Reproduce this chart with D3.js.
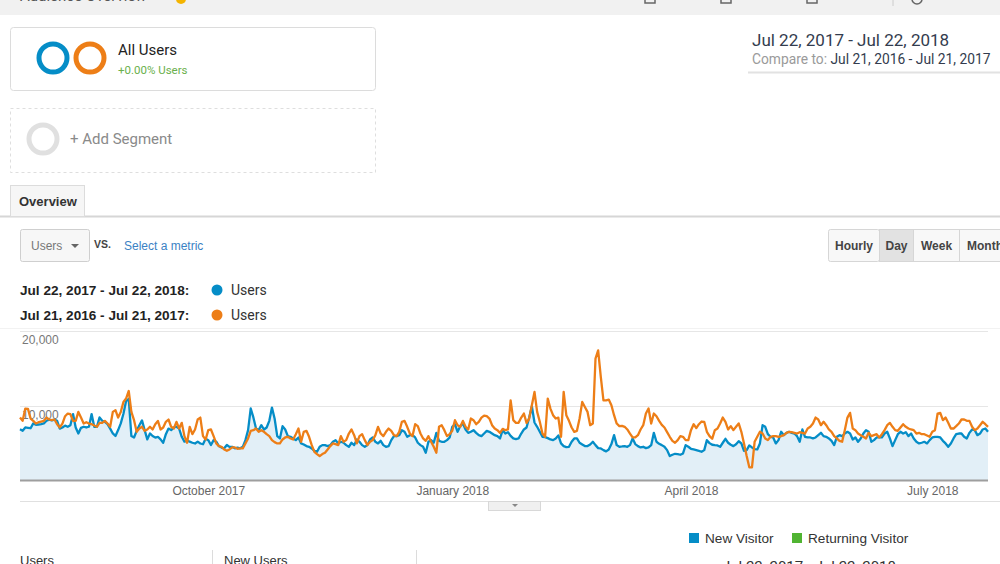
<!DOCTYPE html>
<html>
<head>
<meta charset="utf-8">
<script src="https://cdn.jsdelivr.net/npm/d3@7"></script>
<style>
  html, body { margin: 0; padding: 0; background: #fff; }
  svg { display: block; }
</style>
</head>
<body>
<svg id="chart" width="1000" height="564"></svg>
<script>
// ---------------- DATA ----------------
const currentRange = "Jul 22, 2017 - Jul 22, 2018";
const compareRange = "Jul 21, 2016 - Jul 21, 2017";
const metricName = "Users";
const yTicks = [10000, 20000];
const xTickDates = ["2017-10-01", "2018-01-01", "2018-04-01", "2018-07-01"];
const granularities = ["Hourly", "Day", "Week", "Month"];
const visitorTypes = ["New Visitor", "Returning Visitor"];
const tableHeaders = ["Users", "New Users"];

// Daily users, Jul 22, 2017 - Jul 22, 2018 (blue)
const currentUsers = [
  6800,6600,7050,7000,6950,7600,7400,7450,7500,7600,
  7950,8100,8000,8100,7950,6900,7050,7300,7150,7350,
  8850,7050,6250,7000,7150,7050,7150,8850,7150,7150,
  8400,7950,7800,7500,6900,6250,5900,6700,7600,8900,
  10600,10900,5900,5700,6600,7350,8000,6700,5450,6250,
  5900,5700,5800,5450,5000,6150,6900,6700,7050,7150,
  6900,5800,5150,5350,5150,5000,4900,5150,4900,4800,
  5550,5350,4700,5350,5150,4550,4350,4250,4700,4450,
  4450,4250,4350,4250,4450,5350,6700,9600,8400,6900,
  6700,7360,6780,7050,7940,9720,8250,5890,5580,7230,
  6780,5890,5800,5580,5350,5710,4910,4770,4550,4460,
  4240,3920,3790,4460,4680,4680,4550,4680,5130,5350,
  4910,5130,5000,4680,4460,5000,4680,5440,5130,4680,
  4460,4680,5440,5710,5130,4910,5260,4680,4460,4550,
  5350,5890,5890,6020,6690,6470,5800,6020,6020,5710,
  5000,4680,4460,3660,5130,5350,5000,6330,5260,5130,
  5130,5350,5710,7140,7490,6470,7230,7580,6780,6330,
  6470,6690,6330,6020,5890,6240,6600,6470,6240,6020,
  5890,5580,6690,6240,6420,5930,5580,5490,5580,6240,
  6780,7050,8380,9900,7720,7140,6470,5800,5750,5620,
  5440,5350,5580,5980,4910,4550,4420,4460,5130,5580,
  5580,5000,4770,4550,4550,4770,5130,4680,4280,4240,
  4010,3840,4100,4820,6020,4680,4460,4500,4550,4460,
  4680,5580,4820,4550,4370,4460,4280,4370,4680,6330,
  5130,4860,4680,4460,4010,3210,3390,3520,3480,3390,
  3570,4680,4460,4190,4100,4010,3920,3790,4010,5350,
  4950,4730,4680,4640,4460,5000,5530,5000,4730,4550,
  4800,5200,4910,3920,4010,4640,4370,4150,4100,4910,
  7360,7140,6150,5800,5710,4910,5350,6470,6020,6330,
  6470,6330,6240,5890,5130,6780,5800,5710,5710,5580,
  5710,6020,6330,5890,5800,5580,5260,4680,5800,6020,
  5890,6240,6470,6240,5440,5710,5130,5580,6240,6690,
  6470,5130,5350,5710,5710,5710,6240,6470,5580,4550,
  5350,6150,6470,6240,6420,5890,6240,5580,5130,4910,
  5000,5130,4910,5350,5710,5800,5800,5710,5260,4910,
  4460,4910,5580,6150,6240,6240,5800,5580,6330,6780,
  6690,6020,6240,6780,6910,6470
];

// Daily users, Jul 21, 2016 - Jul 21, 2017 (orange)
const previousUsers = [
  8380,7940,9590,9540,8250,7940,7580,7760,7850,7940,
  8380,8120,8030,8120,7490,7050,7580,8560,8920,8830,
  7940,7940,9140,8380,7580,7760,7580,7490,7310,7140,
  7670,7670,7940,7580,7140,9140,9370,8380,9140,10480,
  10930,11950,9140,8030,6470,6910,7140,6600,6780,7140,
  6780,7490,7940,6780,7050,7810,8120,7140,6910,7810,
  6910,7670,5890,5000,7140,6150,6780,8120,8380,5890,
  5440,6690,6780,5890,4910,4550,4460,4100,3920,4100,
  4370,4370,4190,4240,4240,4910,5580,6600,6690,6910,
  6470,6690,6470,6150,5890,5350,5080,4910,4910,5440,
  5710,5800,5580,5440,6150,6910,5130,6470,6600,5800,
  4680,3790,3480,3210,3480,3660,4100,4550,4910,4820,
  4680,5890,5130,5350,6240,6780,6020,4910,5890,6150,
  5350,4680,5130,5350,6020,7140,6240,5890,6470,6910,
  6600,6020,5890,6470,7810,7940,7140,6240,5890,7490,
  7230,6240,5580,5260,5890,5130,4460,3660,7140,7360,
  6690,5890,6150,6600,8030,7360,7140,7940,7140,6780,
  8250,8030,7490,7810,8380,8650,8560,8250,7360,6910,
  6690,6330,6870,6690,6780,10700,8030,7670,7670,8380,
  8920,7670,8250,10040,11820,9140,7810,6240,5800,10930,
  9590,8700,8250,8380,5800,11820,8700,7940,7050,6470,
  6600,8250,10480,9810,9140,7360,7580,16280,17390,13830,
  10700,10700,10790,10040,8700,7580,7230,7270,7140,6780,
  6240,5710,5710,6020,6780,7360,8920,9590,7580,8920,
  8560,7940,7400,7050,6420,5800,5260,5000,5350,5890,
  5800,5350,5350,6690,7490,6960,7490,7850,7810,6470,
  5890,5530,6690,6910,7580,8380,7810,6780,7230,6690,
  7140,7600,6470,4910,3210,1700,1700,5130,5800,6470,
  6240,5580,5350,5800,5890,5890,5800,5890,6020,6330,
  6470,6420,6330,6240,6420,6330,6240,6910,7140,7580,
  8380,8120,7360,7810,7360,6780,6470,5890,5580,5260,
  5130,6690,8380,9010,6910,6690,6240,6020,5800,5580,
  6330,5890,6020,6150,5710,6150,6690,7360,7670,7140,
  6690,6600,7050,7490,7140,6910,6780,6690,6240,6330,
  6150,6150,5980,5800,6470,6690,8920,9010,8030,8380,
  7670,6910,6910,7230,7580,8120,8120,7940,7940,7140,
  6690,6910,7360,7810,7490,7140
];

// ---------------- STYLE ----------------
const BLUE = "#058dc7";
const ORANGE = "#ed7e17";
const GREEN = "#50b432";
const UI = "Roboto, 'Liberation Sans', Arial, sans-serif";
const CH = "'Liberation Sans', Arial, sans-serif";

const svg = d3.select("#chart");

// top bar
svg.append("rect").attr("x", 0).attr("y", 0).attr("width", 1000).attr("height", 15).attr("fill", "#f1f1f1");
svg.append("text").attr("x", 20).attr("y", 1).attr("font-family", UI).attr("font-size", 15)
  .attr("fill", "#555").text("Audience Overview");
svg.append("circle").attr("cx", 181).attr("cy", -1).attr("r", 5).attr("fill", "#f4b400");
[650, 726, 812].forEach(cx => {
  svg.append("rect").attr("x", cx - 5).attr("y", -4).attr("width", 10).attr("height", 7)
    .attr("fill", "none").attr("stroke", "#666").attr("stroke-width", 1.5);
});
svg.append("line").attr("x1", 893).attr("x2", 893).attr("y1", 0).attr("y2", 6).attr("stroke", "#ccc");
svg.append("circle").attr("cx", 917).attr("cy", -1).attr("r", 5).attr("fill", "none").attr("stroke", "#666").attr("stroke-width", 1.5);

// segment card
svg.append("rect").attr("x", 10.5).attr("y", 27.5).attr("width", 365).attr("height", 63).attr("rx", 3)
  .attr("fill", "#fff").attr("stroke", "#dcdcdc");
svg.append("circle").attr("cx", 53).attr("cy", 58).attr("r", 14).attr("fill", "none").attr("stroke", BLUE).attr("stroke-width", 5);
svg.append("circle").attr("cx", 90).attr("cy", 58).attr("r", 14).attr("fill", "none").attr("stroke", ORANGE).attr("stroke-width", 5);
svg.append("text").attr("x", 118).attr("y", 55).attr("font-family", UI).attr("font-size", 15).attr("fill", "#222").text("All Users");
svg.append("text").attr("x", 118).attr("y", 74).attr("font-family", UI).attr("font-size", 11.5).attr("fill", "#6ab04c").text("+0.00% Users");

// add segment
svg.append("rect").attr("x", 10.5).attr("y", 108.5).attr("width", 365).attr("height", 64)
  .attr("fill", "#fff").attr("stroke", "#dedede").attr("stroke-dasharray", "3,3");
svg.append("circle").attr("cx", 43).attr("cy", 139).attr("r", 14).attr("fill", "none").attr("stroke", "#e0e0e0").attr("stroke-width", 5);
svg.append("text").attr("x", 70).attr("y", 144).attr("font-family", UI).attr("font-size", 15).attr("fill", "#8a8a8a").text("+ Add Segment");

// date range
svg.append("text").attr("x", 752).attr("y", 46).attr("font-family", UI).attr("font-size", 17).attr("fill", "#333c4e").text(currentRange);
const cmp = svg.append("text").attr("x", 752).attr("y", 64).attr("font-family", UI).attr("font-size", 13.8);
cmp.append("tspan").attr("fill", "#9a9a9a").text("Compare to: ");
cmp.append("tspan").attr("fill", "#333c4e").text(compareRange);
svg.append("line").attr("x1", 748).attr("x2", 1000).attr("y1", 72.5).attr("y2", 72.5).attr("stroke", "#e2e2e2").attr("stroke-width", 2);

// overview tab
svg.append("line").attr("x1", 0).attr("x2", 1000).attr("y1", 216.5).attr("y2", 216.5).attr("stroke", "#d6d6d6").attr("stroke-width", 2);
svg.append("rect").attr("x", 10.5).attr("y", 185.5).attr("width", 74).attr("height", 31).attr("fill", "#f6f6f6").attr("stroke", "#dcdcdc");
svg.append("text").attr("x", 19).attr("y", 206).attr("font-family", CH).attr("font-size", 13).attr("font-weight", "bold").attr("fill", "#333").text("Overview");

// metric selector
svg.append("rect").attr("x", 20.5).attr("y", 229.5).attr("width", 69).attr("height", 32).attr("rx", 2)
  .attr("fill", "#f7f7f7").attr("stroke", "#cfcfcf");
svg.append("text").attr("x", 31).attr("y", 250).attr("font-family", CH).attr("font-size", 12).attr("fill", "#777").text(metricName);
svg.append("path").attr("d", "M71,244 L79,244 L75,248 Z").attr("fill", "#666");
svg.append("text").attr("x", 94).attr("y", 248).attr("font-family", CH).attr("font-size", 10.5).attr("font-weight", "bold").attr("fill", "#444").text("VS.");
svg.append("text").attr("x", 124).attr("y", 250).attr("font-family", CH).attr("font-size", 12).attr("fill", "#3b82c4").text("Select a metric");

// granularity buttons
const btnX = [828, 879, 913, 959, 1010];
granularities.forEach((g, i) => {
  const x0 = btnX[i], x1 = btnX[i + 1];
  svg.append("rect").attr("x", x0 + 0.5).attr("y", 229.5).attr("width", x1 - x0).attr("height", 32)
    .attr("rx", i === 0 ? 2 : 0)
    .attr("fill", g === "Day" ? "#e2e2e2" : "#f8f8f8").attr("stroke", "#d6d6d6");
  svg.append("text").attr("x", g === "Month" ? x0 + 8 : (x0 + x1) / 2 + 0.5).attr("y", 250)
    .attr("text-anchor", g === "Month" ? "start" : "middle")
    .attr("font-family", CH).attr("font-size", 12).attr("font-weight", "bold").attr("fill", "#444").text(g);
});

// legend
[[currentRange, BLUE, 295], [compareRange, ORANGE, 320]].forEach(([lab, col, yy]) => {
  svg.append("text").attr("x", 20).attr("y", yy).attr("font-family", CH).attr("font-size", 13.6).attr("font-weight", "bold").attr("fill", "#222").text(lab + ":");
  svg.append("circle").attr("cx", 217).attr("cy", yy - 5).attr("r", 5.5).attr("fill", col);
  svg.append("text").attr("x", 231).attr("y", yy).attr("font-family", UI).attr("font-size", 14).attr("fill", "#333").text(metricName);
});
svg.append("line").attr("x1", 0).attr("x2", 1000).attr("y1", 328.5).attr("y2", 328.5).attr("stroke", "#f2f2f2");

// ---------------- CHART ----------------
const parse = d3.timeParse("%Y-%m-%d");
const startDate = new Date(2017, 6, 22);
const endDate = new Date(2018, 6, 22);
const dates = currentUsers.map((_, i) => d3.timeDay.offset(startDate, i));

const x = d3.scaleTime().domain([startDate, endDate]).range([20, 988]);
const y = d3.scaleLinear().domain([0, 20000]).range([480, 331]);

const g = svg.append("g");

// gridlines
g.selectAll("line.grid").data(yTicks).join("line")
  .attr("x1", 20).attr("x2", 988)
  .attr("y1", d => Math.round(y(d)) + 0.5).attr("y2", d => Math.round(y(d)) + 0.5)
  .attr("stroke", "#e6e6e6");

// area under current series
const area = d3.area().x((d, i) => x(dates[i])).y0(y(0)).y1(d => y(d));
g.append("path").datum(currentUsers).attr("d", area).attr("fill", "#e2eff7");

// y labels
g.selectAll("text.ylab").data(yTicks).join("text")
  .attr("x", 22).attr("y", d => y(d) + 13)
  .attr("font-family", CH).attr("font-size", 12).attr("fill", "#777")
  .text(d => d3.format(",")(d));

const line = d3.line().x((d, i) => x(dates[i])).y(d => y(d)).curve(d3.curveLinear);
g.append("path").datum(currentUsers).attr("d", line).attr("fill", "none")
  .attr("stroke", BLUE).attr("stroke-width", 2.3).attr("stroke-linejoin", "round");
g.append("path").datum(previousUsers).attr("d", line).attr("fill", "none")
  .attr("stroke", ORANGE).attr("stroke-width", 2.3).attr("stroke-linejoin", "round");

// baseline
g.append("line").attr("x1", 20).attr("x2", 988).attr("y1", y(0) + 0.5).attr("y2", y(0) + 0.5)
  .attr("stroke", "#9e9e9e").attr("stroke-width", 2);

// x axis
const xAxis = d3.axisBottom(x).tickValues(xTickDates.map(parse)).tickSize(0).tickPadding(5)
  .tickFormat(d3.timeFormat("%B %Y"));
const ax = g.append("g").attr("transform", `translate(0,${y(0) + 1})`).call(xAxis);
ax.select(".domain").remove();
ax.selectAll("text").attr("font-family", CH).attr("font-size", 12).attr("fill", "#666");

// collapse bar
svg.append("line").attr("x1", 20).attr("x2", 1000).attr("y1", 501.5).attr("y2", 501.5).attr("stroke", "#e0e0e0");
svg.append("rect").attr("x", 488.5).attr("y", 501.5).attr("width", 52).attr("height", 9).attr("fill", "#f0f0f0").attr("stroke", "#d8d8d8");
svg.append("path").attr("d", "M512,504 L518,504 L515,507 Z").attr("fill", "#888");

// bottom legend + table header
const vcol = [BLUE, GREEN];
const vx = [689, 792];
visitorTypes.forEach((v, i) => {
  svg.append("rect").attr("x", vx[i]).attr("y", 533).attr("width", 10).attr("height", 10).attr("fill", vcol[i]);
  svg.append("text").attr("x", vx[i] + 16).attr("y", 543).attr("font-family", CH).attr("font-size", 13.6).attr("fill", "#333").text(v);
});
svg.append("text").attr("x", 722).attr("y", 572).attr("font-family", UI).attr("font-size", 15).attr("fill", "#333").text(currentRange);
const hx = [20, 224];
tableHeaders.forEach((h, i) => {
  svg.append("text").attr("x", hx[i]).attr("y", 565).attr("font-family", CH).attr("font-size", 13).attr("fill", "#333").text(h);
});
[212, 416].forEach(sx => {
  svg.append("line").attr("x1", sx + 0.5).attr("x2", sx + 0.5).attr("y1", 550).attr("y2", 564).attr("stroke", "#dcdcdc");
});
</script>
</body>
</html>
